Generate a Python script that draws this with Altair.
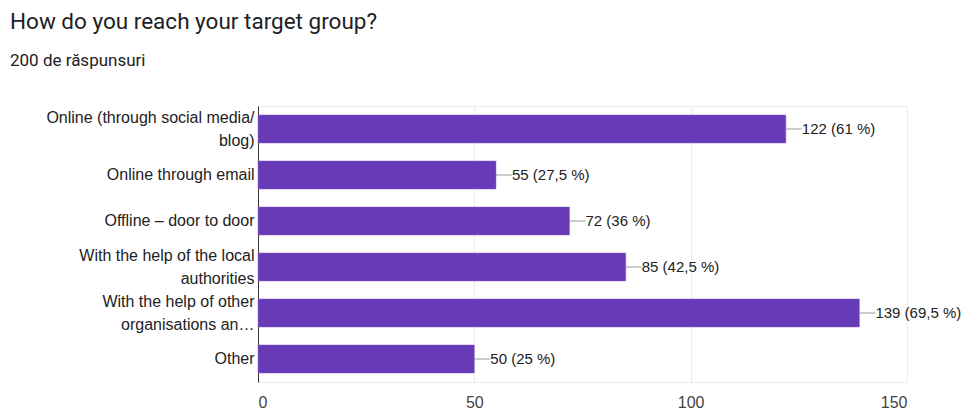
import altair as alt
import pandas as pd

title_text = "How do you reach your target group?"
subtitle_text = "200 de răspunsuri"

categories = [
    "Online (through social media/|blog)",
    "Online through email",
    "Offline – door to door",
    "With the help of the local|authorities",
    "With the help of other|organisations an…",
    "Other",
]
counts = [122, 55, 72, 85, 139, 50]
percents = ["61", "27,5", "36", "42,5", "69,5", "25"]
x_ticks = [0, 50, 100, 150]

labels = [f"{c} ({p} %)" for c, p in zip(counts, percents)]
df = pd.DataFrame({"cat": categories, "value": counts, "label": labels})

W, H = 649, 276
FS = 16
PAD_LEFT = 250

y_enc = alt.Y(
    "cat:N",
    sort=categories,
    scale=alt.Scale(paddingInner=0.39, paddingOuter=0.195),
    axis=alt.Axis(
        title=None,
        labelExpr="split(datum.label, '|')",
        labelFont="Liberation Sans",
        labelFontSize=FS,
        labelColor="#222222",
        labelLineHeight=23,
        labelOffset=alt.condition("indexof(datum.value, '|') >= 0", alt.value(-11.5), alt.value(0)),
        labelLimit=400,
        labelPadding=4,
        ticks=False,
        domain=True,
        domainColor="#333333",
        domainWidth=1,
        grid=False,
    ),
)

x_enc = alt.X(
    "value:Q",
    scale=alt.Scale(domain=[0, 150], nice=False),
    axis=alt.Axis(
        title=None,
        values=x_ticks,
        labelFont="Liberation Sans",
        labelFontSize=FS,
        labelColor="#444444",
        labelPadding=12,
        ticks=False,
        domain=False,
        grid=True,
        gridColor="#ebebeb",
    ),
)

y_mid = alt.Y("cat:N", sort=categories, bandPosition=0.5)

base = alt.Chart(df)

bars = base.mark_bar(color="#673ab7", stroke="#8a66cc", strokeWidth=0.5).encode(
    x=x_enc, y=y_enc
)

connectors = base.mark_rule(color="#999999", strokeWidth=1, x2Offset=16).encode(
    x="value:Q", x2="value:Q", y=y_mid
)

texts = base.mark_text(
    align="left",
    baseline="middle",
    dx=16,
    font="Liberation Sans",
    fontSize=15,
    color="#222222",
).encode(x="value:Q", y=y_mid, text="label:N")

title_layer = alt.Chart(pd.DataFrame({"t": [title_text]})).mark_text(
    align="left", baseline="alphabetic", font="Roboto", fontSize=22.5, color="#202124"
).encode(text="t:N", x=alt.value(2 - PAD_LEFT), y=alt.value(-77))

subtitle_layer = alt.Chart(pd.DataFrame({"t": [subtitle_text]})).mark_text(
    align="left", baseline="alphabetic", font="Roboto", fontSize=17, color="#202124"
).encode(text="t:N", x=alt.value(2 - PAD_LEFT), y=alt.value(-40))

chart = (
    alt.layer(bars, connectors, texts, title_layer, subtitle_layer)
    .properties(
        width=W,
        height=H,
        background="white",
        autosize=alt.AutoSizeParams(type="none"),
        padding={"left": PAD_LEFT, "top": 98, "right": 954 - PAD_LEFT - W, "bottom": 30},
    )
    .configure_view(stroke="#ebebeb")
)

chart.save("out.html", embed_options={"renderer": "svg", "actions": False})
